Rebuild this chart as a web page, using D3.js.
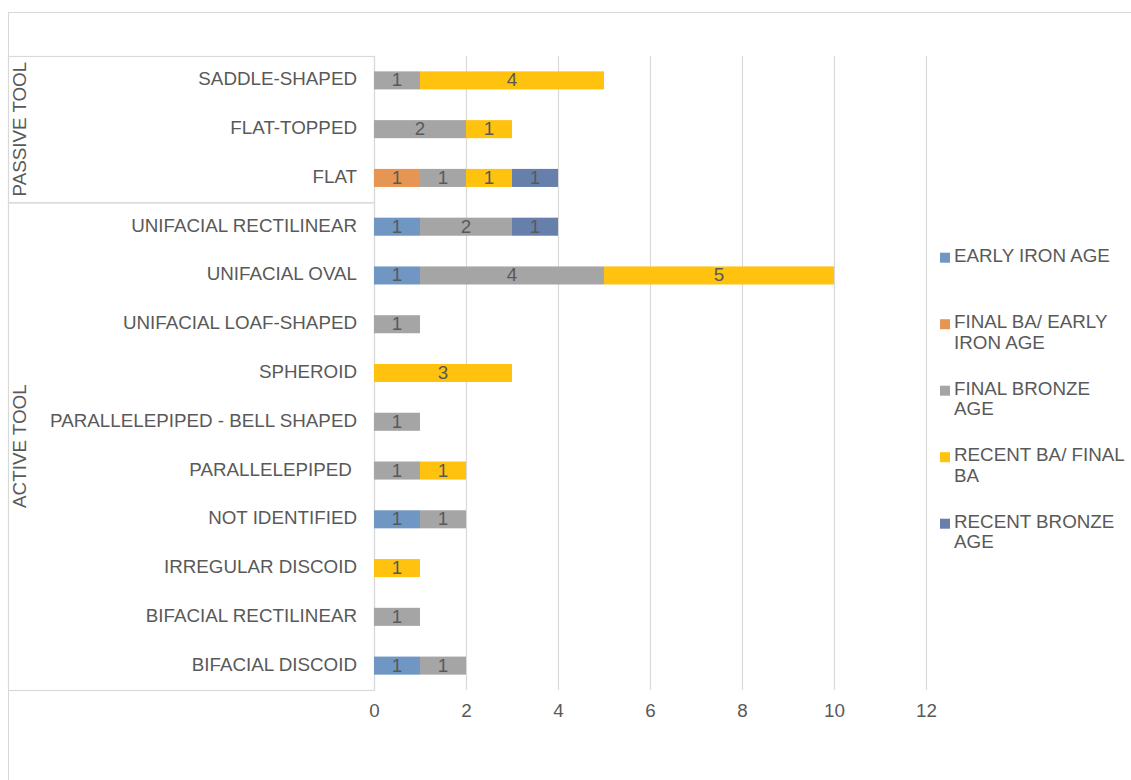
<!DOCTYPE html>
<html><head><meta charset="utf-8">
<script src="https://cdn.jsdelivr.net/npm/d3@7"></script>
<style>body{margin:0;background:#fff;}text{font-family:"Liberation Sans",Arial,sans-serif;}</style>
</head><body>
<svg id="c" width="1131" height="780"></svg>
<script>
const categories = ["SADDLE-SHAPED","FLAT-TOPPED","FLAT","UNIFACIAL RECTILINEAR","UNIFACIAL OVAL","UNIFACIAL LOAF-SHAPED","SPHEROID","PARALLELEPIPED - BELL SHAPED","PARALLELEPIPED ","NOT IDENTIFIED","IRREGULAR DISCOID","BIFACIAL RECTILINEAR","BIFACIAL DISCOID"];
const groups = [{name:"PASSIVE TOOL", from:0, to:2},{name:"ACTIVE TOOL", from:3, to:12}];
const seriesNames = ["EARLY IRON AGE","FINAL BA/ EARLY IRON AGE","FINAL BRONZE AGE","RECENT BA/ FINAL BA","RECENT BRONZE AGE"];
const seriesColors = ["#7096c3","#e69552","#a5a5a5","#ffc20e","#6780ab"];
const earlyIronAge    = [0,0,0,1,1,0,0,0,0,1,0,0,1];
const finalBaEarlyIron= [0,0,1,0,0,0,0,0,0,0,0,0,0];
const finalBronzeAge  = [1,2,1,2,4,1,0,1,1,1,0,1,1];
const recentBaFinalBa = [4,1,1,0,5,0,3,0,1,0,1,0,0];
const recentBronzeAge = [0,0,1,1,0,0,0,0,0,0,0,0,0];
const xTicks = [0,2,4,6,8,10,12];
const legendLines = [["EARLY IRON AGE"],["FINAL BA/ EARLY","IRON AGE"],["FINAL BRONZE","AGE"],["RECENT BA/ FINAL","BA"],["RECENT BRONZE","AGE"]];

const seriesVals = [earlyIronAge, finalBaEarlyIron, finalBronzeAge, recentBaFinalBa, recentBronzeAge];
const table = categories.map((c,i)=>{const o={cat:c}; seriesNames.forEach((s,j)=>o[s]=seriesVals[j][i]); return o;});
const stack = d3.stack().keys(seriesNames)(table);

const svg = d3.select("#c");
const txt = "#595959", grid = "#d9d9d9";
const FS = 18.8;
// outer border
svg.append("rect").attr("x",8.5).attr("y",12.5).attr("width",1140).attr("height",800).attr("fill","none").attr("stroke",grid);

const x = d3.scaleLinear().domain([0,12]).range([374,926]);
const y = d3.scaleBand().domain(categories).range([56,690]).paddingInner(0.63).paddingOuter(0.315);
const bandStep = y.step();

// gridlines
svg.append("g").selectAll("line").data(xTicks).join("line")
  .attr("x1",d=>x(d)+0.5).attr("x2",d=>x(d)+0.5).attr("y1",56).attr("y2",690)
  .attr("stroke",grid).attr("stroke-width",1.2);

// group boxes
const gy = i => 56 + i*bandStep;
groups.forEach(g=>{
  svg.append("rect").attr("x",8.5).attr("y",gy(g.from)+0.5).attr("width",366).attr("height",gy(g.to+1)-gy(g.from))
    .attr("fill","none").attr("stroke",grid).attr("stroke-width",1.2);
  const cy=(gy(g.from)+gy(g.to+1))/2;
  svg.append("text").attr("transform",`translate(26,${cy}) rotate(-90)`).attr("text-anchor","middle")
    .attr("fill",txt).attr("font-size",FS).text(g.name);
});

// bars
const layers = svg.append("g").selectAll("g").data(stack).join("g").attr("fill",(d,i)=>seriesColors[i]);
layers.selectAll("rect").data(d=>d.filter(p=>p[1]>p[0])).join("rect")
  .attr("x",d=>x(d[0])).attr("width",d=>x(d[1])-x(d[0]))
  .attr("y",d=>y(d.data.cat)).attr("height",y.bandwidth());
layers.selectAll("text").data(d=>d.filter(p=>p[1]>p[0])).join("text")
  .attr("x",d=>(x(d[0])+x(d[1]))/2).attr("y",d=>y(d.data.cat)+y.bandwidth()/2+6)
  .attr("text-anchor","middle").attr("fill",txt).attr("font-size",FS).text(d=>d[1]-d[0]);

// category labels
svg.append("g").selectAll("text").data(categories).join("text")
  .attr("x",357).attr("y",d=>y(d)+y.bandwidth()/2+5).attr("text-anchor","end")
  .attr("fill",txt).attr("font-size",FS).style("white-space","pre").text(d=>d);

// x axis labels
const ax = svg.append("g").attr("transform","translate(0,690)").call(d3.axisBottom(x).tickValues(xTicks).tickSize(0).tickPadding(14));
ax.select(".domain").remove();
ax.selectAll("text").attr("fill",txt).attr("font-size",FS).attr("font-family","Liberation Sans, Arial, sans-serif");

// legend
const lg = svg.append("g");
legendLines.forEach((lines,i)=>{
  const base = 261.7 + i*66.5;
  lg.append("rect").attr("x",940).attr("y",base-9).attr("width",10).attr("height",10).attr("fill",seriesColors[i]);
  lines.forEach((l,k)=>{
    lg.append("text").attr("x",954).attr("y",base+k*20.7).attr("fill",txt).attr("font-size",FS).text(l);
  });
});
</script>
</body></html>
